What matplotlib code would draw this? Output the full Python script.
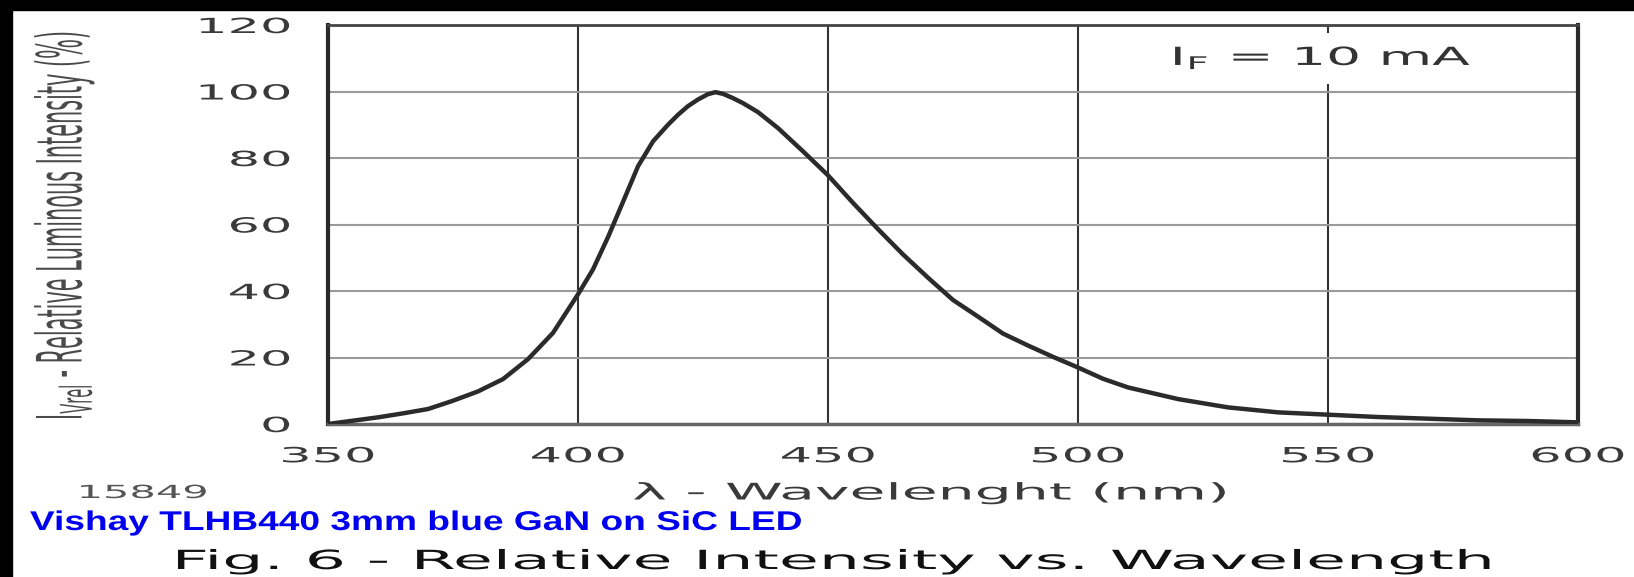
import matplotlib
matplotlib.use("Agg")
import matplotlib.pyplot as plt
from matplotlib.patheffects import AbstractPathEffect
from matplotlib.transforms import Affine2D

# relative luminous intensity (%)
wavelength = [350, 355, 360, 365, 370, 375, 380, 385, 390, 395,
              400, 403, 406, 409, 412, 415, 418, 420, 422, 424,
              426, 427.5, 429, 431, 433, 436, 440, 445, 450, 455,
              460, 465, 470, 475, 480, 485, 490, 495, 500, 505,
              510, 520, 530, 540, 550, 560, 570, 580, 590, 600]
intensity = [0.0, 1.0, 2.0, 3.2, 4.5, 7.0, 9.8, 13.5, 19.5, 27.4,
             39.0, 46.5, 56.2, 66.8, 77.5, 85.0, 90.0, 93.0, 95.6, 97.6,
             99.2, 99.8, 99.3, 98.0, 96.5, 93.8, 89.0, 82.0, 74.8, 66.5,
             58.6, 51.0, 44.0, 37.3, 32.3, 27.2, 23.6, 20.2, 17.0, 13.6,
             11.0, 7.5, 5.0, 3.5, 2.8, 2.1, 1.6, 1.1, 0.9, 0.5]
x_ticks = [350, 400, 450, 500, 550, 600]
y_ticks = [0, 20, 40, 60, 80, 100, 120]


class Stretch(AbstractPathEffect):
    # the scan is stretched sideways, so widen the glyphs the same way
    def __init__(self, sx, anchor="center"):
        super().__init__()
        self.sx = sx
        self.anchor = anchor

    def draw_path(self, renderer, gc, tpath, affine, rgbFace=None):
        bb = tpath.get_extents(affine)
        if self.anchor == "left":
            x0 = bb.x0
        elif self.anchor == "right":
            x0 = bb.x1
        else:
            x0 = (bb.x0 + bb.x1) / 2
        t = affine + Affine2D().translate(-x0, 0).scale(self.sx, 1).translate(x0, 0)
        renderer.draw_path(gc, tpath, t, rgbFace)


W, H = 1634, 577
fig = plt.figure(figsize=(W / 100, H / 100), dpi=100)
fig.patch.set_facecolor("white")

ax = fig.add_axes([328 / W, 1 - 424 / H, 1250 / W, 399 / H])
ax.plot(wavelength, intensity, color="#2b2b2b", lw=3.2, zorder=3,
        solid_joinstyle="round")
ax.set_xlim(350, 600)
ax.set_ylim(0, 120)
ax.set_xticks(x_ticks)
ax.set_yticks(y_ticks)
ax.set_axisbelow(True)
ax.yaxis.grid(True, color="#9a9a9a", lw=1.5)
ax.xaxis.grid(True, color="#333333", lw=1.5)
ax.tick_params(length=0, labelsize=15, labelcolor="#3a3a3a")
ax.tick_params(axis="x", pad=16)
ax.tick_params(axis="y", pad=27)

for lab in ax.get_xticklabels():
    lab.set_path_effects([Stretch(2.45)])
for lab in ax.get_yticklabels():
    lab.set_path_effects([Stretch(2.45, "right")])

for side in ["left", "right"]:
    ax.spines[side].set_linewidth(3)
    ax.spines[side].set_color("#2a2a2a")
ax.spines["top"].set_linewidth(2)
ax.spines["top"].set_color("#444444")
ax.spines["bottom"].set_linewidth(2.5)
ax.spines["bottom"].set_color("#666666")

t = ax.text(548.8, 110, r"I$_\mathregular{F}$ = 10 mA", ha="center", va="center",
            fontsize=18, color="#333333", zorder=5,
            bbox=dict(facecolor="white", edgecolor="none", pad=9))
t.set_path_effects([Stretch(2.2)])

t = fig.text(64 / W, 1 - 225 / H, r"I$_\mathregular{Vrel}$ - Relative Luminous Intensity (%)",
             rotation=90, ha="center", va="center", fontsize=15, color="#4a4a4a")
t.set_path_effects([Stretch(3.0)])

t = fig.text(930 / W, 1 - 493 / H, "λ - Wavelenght (nm)", ha="center", va="center",
             fontsize=16.5, color="#3a3a3a")
t.set_path_effects([Stretch(2.55)])

t = fig.text(143 / W, 1 - 493 / H, "15849", ha="center", va="center",
             fontsize=13, color="#555555")
t.set_path_effects([Stretch(2.3)])

t = fig.text(30 / W, 1 - 530 / H, "Vishay TLHB440 3mm blue GaN on SiC LED",
             ha="left", va="baseline", fontsize=19.5, fontweight="bold",
             color="#0000ee", family=["Liberation Sans", "DejaVu Sans"])
t.set_path_effects([Stretch(1.37, "left")])

t = fig.text(834 / W, 1 - 569 / H, "Fig. 6 - Relative Intensity vs. Wavelength",
             ha="center", va="baseline", fontsize=19, color="#111111")
t.set_path_effects([Stretch(2.46)])

# black scan border on top and left
fig.add_artist(plt.Rectangle((0, 1 - 10 / H), 1, 10 / H, transform=fig.transFigure,
                             color="black", zorder=10))
fig.add_artist(plt.Rectangle((0, 0), 12 / W, 1, transform=fig.transFigure,
                             color="black", zorder=10))

fig.savefig("out.png", dpi=100)
